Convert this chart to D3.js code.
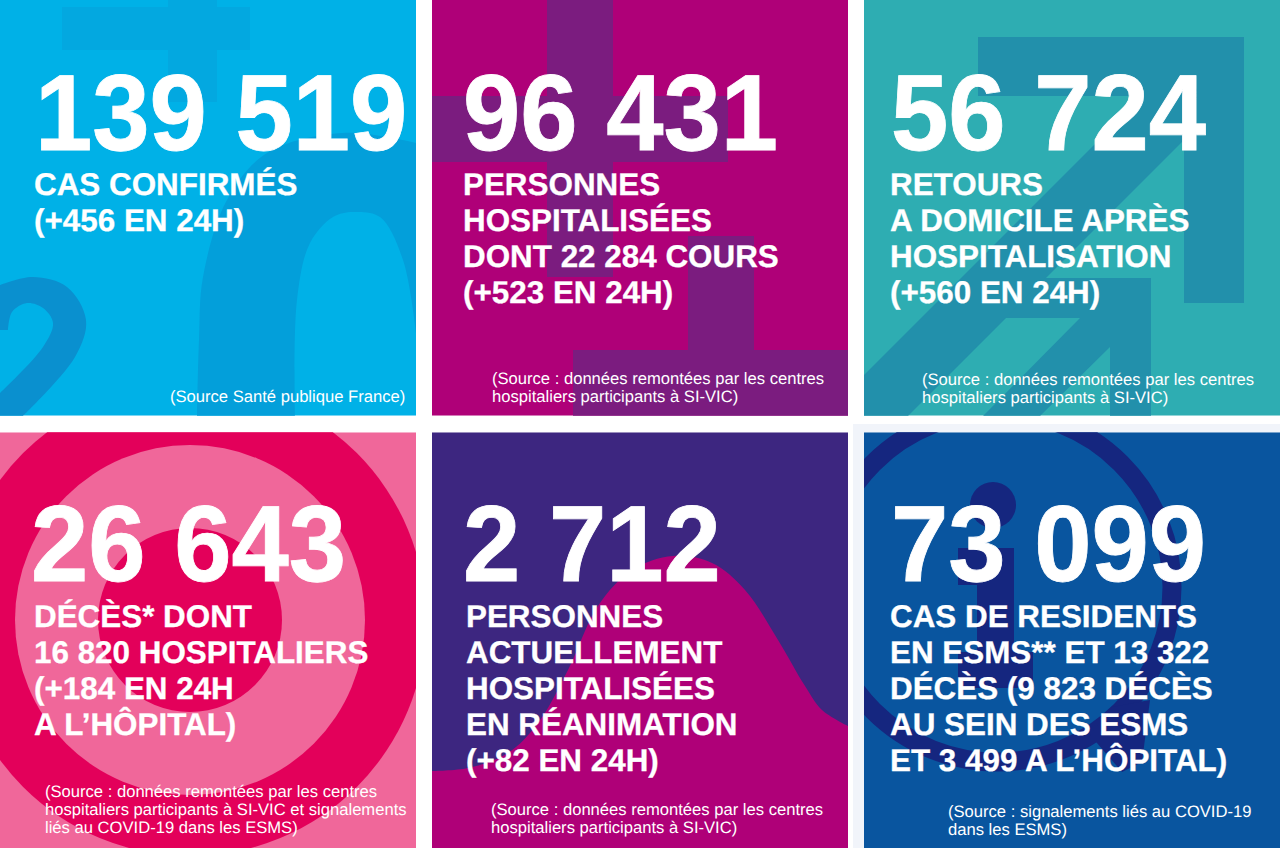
<!DOCTYPE html>
<html lang="fr">
<head>
    <meta charset="UTF-8">
    <title>COVID-19 chiffres clés</title>
    <script src="https://d3js.org/d3.v7.min.js"></script>
    <style>
        body { margin: 0; background: #fff; }
        svg { display: block; }
        text { fill: #fff; font-family: "Liberation Sans", Arial, sans-serif; text-rendering: geometricPrecision; }
        .number { font-size: 103px; font-weight: 700; stroke: #fff; stroke-width: 0.8px; }
        .label { font-size: 31.4px; font-weight: 700; stroke: #fff; stroke-width: 0.3px; }
        .source { font-size: 16.6px; }
    </style>
</head>
<body>
    <svg width="1280" height="848"></svg>
    <script>
        // Values
        const numbers = ["139 519", "96 431", "56 724", "26 643", "2 712", "73 099"];
        const labels = [
            ["CAS CONFIRMÉS", "(+456 EN 24H)"],
            ["PERSONNES", "HOSPITALISÉES", "DONT 22 284 COURS", "(+523 EN 24H)"],
            ["RETOURS", "A DOMICILE APRÈS", "HOSPITALISATION", "(+560 EN 24H)"],
            ["DÉCÈS* DONT", "16 820 HOSPITALIERS", "(+184 EN 24H", "A L’HÔPITAL)"],
            ["PERSONNES", "ACTUELLEMENT", "HOSPITALISÉES", "EN RÉANIMATION", "(+82 EN 24H)"],
            ["CAS DE RESIDENTS", "EN ESMS** ET 13 322", "DÉCÈS (9 823 DÉCÈS", "AU SEIN DES ESMS", "ET 3 499 A L’HÔPITAL)"]
        ];
        const sources = [
            ["(Source Santé publique France)"],
            ["(Source : données remontées par les centres", "hospitaliers participants à SI-VIC)"],
            ["(Source : données remontées par les centres", "hospitaliers participants à SI-VIC)"],
            ["(Source : données remontées par les centres", "hospitaliers participants à SI-VIC et signalements", "liés au COVID-19 dans les ESMS)"],
            ["(Source : données remontées par les centres", "hospitaliers participants à SI-VIC)"],
            ["(Source : signalements liés au COVID-19", "dans les ESMS)"]
        ];

        // Layout of the text in each panel (page pixels)
        const numberX = [35, 463, 891, 31, 463, 891];
        const labelX = [34, 463, 890, 34, 466, 890];
        const sourceX = [170, 492, 922, 45, 491, 948];
        const panelBg = ["#00b1e7", "#af0078", "#2eadb2", "#f0679a", "#3d2680", "#09559f"];

        const svg = d3.select("svg");
        const x = d3.scaleBand().domain([0, 1, 2]).range([0, 1280]).paddingInner(16 / 432);
        const y = d3.scaleBand().domain([0, 1]).range([0, 848]).paddingInner(16 / 416);

        const smooth = d3.line().curve(d3.curveCatmullRom);
        const join = (...parts) => parts.map((p, i) => i ? p.replace("M", "L") : p).join("") + "Z";

        // Pale band behind the last panel
        svg.append("rect").attr("x", 853).attr("y", 424).attr("width", 427).attr("height", 424).attr("fill", "#f1f4fa");

        const panels = numbers.map((d, i) => ({ i, col: i % 3, row: Math.floor(i / 3) }));

        svg.append("defs").selectAll("clipPath")
            .data(panels)
            .join("clipPath")
            .attr("id", d => "clip" + d.i)
            .append("rect")
            .attr("x", d => x(d.col))
            .attr("y", d => y(d.row))
            .attr("width", x.bandwidth())
            .attr("height", y.bandwidth());

        const groups = svg.selectAll("g.panel")
            .data(panels)
            .join("g")
            .attr("class", "panel");

        const art = groups.append("g").attr("clip-path", d => `url(#clip${d.i})`);

        art.append("rect")
            .attr("x", d => x(d.col))
            .attr("y", d => y(d.row))
            .attr("width", x.bandwidth())
            .attr("height", y.bandwidth())
            .attr("fill", d => panelBg[d.i]);

        // Panel 1: plus sign, 2 and 0
        const a1 = art.filter(d => d.i === 0);
        a1.append("path").attr("fill", "#03a8e0").attr("d", "M62,7H168V0H217V7H250V50H217V102H168V50H62Z");
        a1.append("path").attr("fill", "#039fda").attr("d", join(
            smooth([[197, 416], [199, 340], [203, 277], [227, 200], [267, 153], [343, 133], [416, 143]]),
            smooth([[416, 333], [403, 260], [380, 217], [353, 212], [333, 217], [310, 243], [297, 300], [295, 416]])
        ));
        a1.append("path").attr("fill", "#0a90cf").attr("d", join(
            smooth([[0, 285], [33, 277], [67, 287], [86, 320], [75, 357], [23, 416]]),
            "M0,416L0,393",
            smooth([[0, 393], [43, 347], [53, 323], [43, 308], [27, 303], [12, 312], [8, 330]]),
            "M0,330"
        ));

        // Panel 2: two crosses
        const a2 = art.filter(d => d.i === 1);
        a2.append("path").attr("fill", "#7b1c7f").attr("d", "M547,0H613V96H728V162H613V277H547V162H432V96H547Z");
        a2.append("path").attr("fill", "#7b1c7f").attr("d", "M688,236H754V350H848V416H573V350H688Z");

        // Panel 3: arrows
        const a3 = art.filter(d => d.i === 2);
        a3.append("path").attr("fill", "#2290ab")
            .attr("d", "M978,37H1244V303H1184V140L908,416H864V375L1143,96H978Z");
        a3.append("path").attr("fill", "#2290ab")
            .attr("d", "M1045,278H1151V416H1110V347L1040,416H983L1080,318H1005L908,416Z");

        // Panel 4: target
        const a4 = art.filter(d => d.i === 3);
        [[236, "#e3005a"], [175, "#f0679a"], [92, "#e3005a"]].forEach(c => {
            a4.append("circle").attr("cx", 190).attr("cy", 620).attr("r", c[0]).attr("fill", c[1]);
        });

        // Panel 5: epidemic curve
        art.filter(d => d.i === 4).append("path").attr("fill", "#af0078").attr("d", join(
            smooth([[432, 771], [468, 768], [508, 753], [538, 723], [568, 670], [598, 606], [632, 570], [673, 556],
                [712, 563], [745, 590], [778, 640], [805, 686], [822, 710], [848, 726]]),
            "M848,848L432,848"
        ));

        // Panel 6: speech bubble with an i
        const a6 = art.filter(d => d.i === 5);
        a6.append("circle").attr("cx", 997).attr("cy", 587).attr("r", 175)
            .attr("fill", "none").attr("stroke", "#15267f").attr("stroke-width", 19);
        a6.append("path").attr("fill", "#15267f").attr("d", "M1112,707L1090,735L1122,772L1142,762L1150,700Z");
        a6.append("circle").attr("cx", 993).attr("cy", 505).attr("r", 23).attr("fill", "#15267f");
        a6.append("path").attr("fill", "#15267f").attr("d", "M958,548H1014V652H1033V688H958V652H977V585H958Z");

        // Text
        const numberY = [149.5, 580.5];
        const labelY = [195, 627];

        // the digits in the picture are a little taller than the font's
        groups.append("text")
            .attr("class", "number")
            .attr("transform", d => `translate(${numberX[d.i]},${numberY[d.row]}) scale(1,1.05)`)
            .text(d => numbers[d.i]);

        groups.each(function (d) {
            const g = d3.select(this);
            g.selectAll("text.label")
                .data(labels[d.i])
                .join("text")
                .attr("class", "label")
                .attr("x", labelX[d.i])
                .attr("y", (t, k) => labelY[d.row] + k * 36)
                .text(t => t);

            const lines = sources[d.i];
            const lastY = d.row === 0 ? 402 + (d.i === 2 ? 1 : 0) : (d.i === 5 ? 835 : 833);
            g.selectAll("text.source")
                .data(lines)
                .join("text")
                .attr("class", "source")
                .attr("x", sourceX[d.i])
                .attr("y", (t, k) => lastY - (lines.length - 1 - k) * 18)
                .text(t => t);
        });
    </script>
</body>
</html>
